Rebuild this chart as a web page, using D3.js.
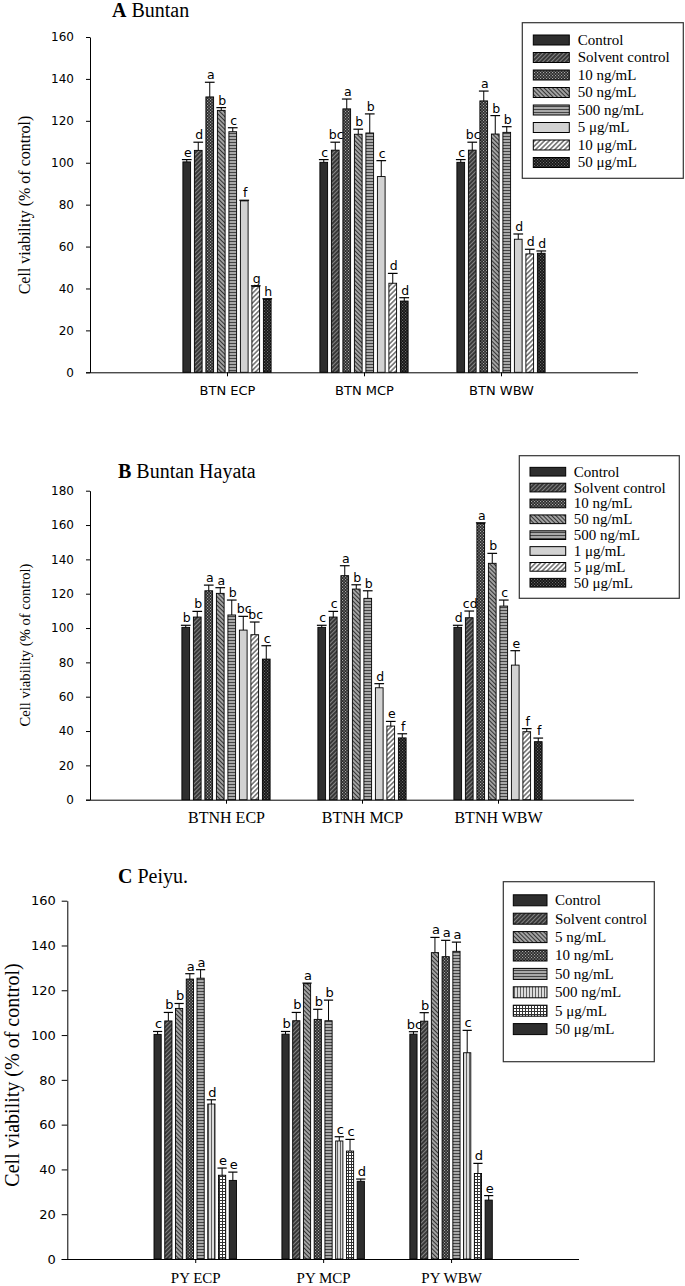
<!DOCTYPE html>
<html><head><meta charset="utf-8">
<script src="https://cdn.jsdelivr.net/npm/d3@7"></script>
<style>body{margin:0;background:#fff}svg{display:block}</style>
</head><body>
<script>
// ---------- DATA ----------
const groupsA = ["BTN ECP", "BTN MCP", "BTN WBW"];
const seriesA = ["Control", "Solvent control", "10 ng/mL", "50 ng/mL", "500 ng/mL", "5 μg/mL", "10 μg/mL", "50 μg/mL"];
const meansA = [
  [100.4, 105.9, 131.4, 125.0, 114.8, 81.8, 41.0, 34.8],
  [100.2, 106.0, 125.7, 113.6, 114.2, 93.4, 42.5, 34.0],
  [100.2, 106.0, 129.5, 113.7, 114.5, 63.5, 56.5, 56.8]
];
const errsA = [
  [1.1, 3.9, 7.0, 1.3, 1.9, 0.3, 0.3, 0.3],
  [1.3, 3.8, 4.7, 2.4, 9.1, 7.6, 4.7, 1.6],
  [1.3, 3.8, 4.7, 8.8, 2.7, 2.5, 2.2, 1.1]
];
const lettersA = [
  ["e", "d", "a", "b", "c", "f", "g", "h"],
  ["c", "bc", "a", "b", "b", "c", "d", "d"],
  ["c", "bc", "a", "b", "b", "d", "d", "d"]
];
const ticksA = [0, 20, 40, 60, 80, 100, 120, 140, 160];

const groupsB = ["BTNH ECP", "BTNH MCP", "BTNH WBW"];
const seriesB = ["Control", "Solvent control", "10 ng/mL", "50 ng/mL", "500 ng/mL", "1 μg/mL", "5 μg/mL", "50 μg/mL"];
const meansB = [
  [100.4, 106.4, 121.7, 120.2, 107.6, 98.8, 96.1, 81.9],
  [100.4, 106.4, 130.5, 122.7, 117.3, 65.2, 42.9, 36.0],
  [100.4, 106.0, 161.0, 137.7, 112.8, 78.4, 39.6, 33.8]
];
const errsB = [
  [1.2, 3.3, 3.3, 3.3, 8.7, 8.0, 7.4, 7.8],
  [1.2, 3.3, 5.8, 2.5, 4.4, 2.4, 2.7, 2.4],
  [1.2, 3.9, 0.3, 5.8, 3.5, 8.4, 1.8, 2.1]
];
const lettersB = [
  ["b", "b", "a", "a", "b", "bc", "bc", "c"],
  ["c", "c", "a", "b", "b", "d", "e", "f"],
  ["d", "cd", "a", "b", "c", "e", "f", "f"]
];
const ticksB = [0, 20, 40, 60, 80, 100, 120, 140, 160, 180];

const groupsC = ["PY ECP", "PY MCP", "PY WBW"];
const seriesC = ["Control", "Solvent control", "5 ng/mL", "10 ng/mL", "50 ng/mL", "500 ng/mL", "5 μg/mL", "50 μg/mL"];
const meansC = [
  [100.3, 106.3, 111.9, 125.0, 125.4, 69.2, 37.4, 35.1],
  [100.4, 106.4, 122.9, 107.0, 106.4, 52.7, 48.2, 34.7],
  [100.4, 106.2, 136.8, 135.0, 137.4, 92.1, 38.2, 26.3]
];
const errsC = [
  [1.3, 3.8, 2.2, 2.4, 3.8, 1.9, 3.2, 3.7],
  [1.2, 3.7, 0.3, 4.5, 9.2, 1.9, 5.2, 1.0],
  [1.1, 3.8, 6.8, 7.3, 4.1, 10.0, 4.5, 2.0]
];
const lettersC = [
  ["c", "b", "b", "a", "a", "d", "e", "e"],
  ["b", "b", "a", "b", "b", "c", "c", "d"],
  ["bc", "b", "a", "a", "a", "c", "d", "e"]
];
const ticksC = [0, 20, 40, 60, 80, 100, 120, 140, 160];

// ---------- STYLES (fill patterns per series) ----------
const patsAB = ["solid", "solv", "dots", "back", "hstr", "light", "wdiag", "bdots"];
const patsC = ["solid", "solv", "back", "dots", "hstr", "vstr", "grid", "solid"];

const svg = d3.select("body").append("svg").attr("width", 685).attr("height", 1286);
const defs = svg.append("defs");

function hatch(id, bg, col, sw, sp, ang) {
  const p = defs.append("pattern").attr("id", id).attr("patternUnits", "userSpaceOnUse")
    .attr("width", sp).attr("height", sp).attr("patternTransform", `rotate(${ang})`);
  p.append("rect").attr("width", sp).attr("height", sp).attr("fill", bg);
  p.append("line").attr("x1", sp / 2).attr("x2", sp / 2).attr("y1", 0).attr("y2", sp)
    .attr("stroke", col).attr("stroke-width", sw);
}
function dots(id, bg, col, sp, r) {
  const p = defs.append("pattern").attr("id", id).attr("patternUnits", "userSpaceOnUse")
    .attr("width", sp).attr("height", sp);
  p.append("rect").attr("width", sp).attr("height", sp).attr("fill", bg);
  p.append("rect").attr("x", 0).attr("y", 0).attr("width", r).attr("height", r).attr("fill", col);
  p.append("rect").attr("x", sp / 2).attr("y", sp / 2).attr("width", r).attr("height", r).attr("fill", col);
}
hatch("solv", "#383838", "#8c8c8c", 0.9, 3, 45);
dots("dots", "#2c2c2c", "#a8a8a8", 3, 1.1);
hatch("back", "#a2a2a2", "#333", 1, 3, -45);
hatch("hstr", "#a8a8a8", "#444", 1, 3, 90);
hatch("wdiag", "#ffffff", "#333", 1.1, 3.4, 45);
dots("bdots", "#151515", "#6a6a6a", 3, 1.1);
hatch("vstr", "#dcdcdc", "#555", 0.9, 3, 0);
(function () {
  const p = defs.append("pattern").attr("id", "grid").attr("patternUnits", "userSpaceOnUse")
    .attr("width", 3).attr("height", 3);
  p.append("rect").attr("width", 3).attr("height", 3).attr("fill", "#fff");
  p.append("path").attr("d", "M0 0.5H3M0.5 0V3").attr("stroke", "#333").attr("stroke-width", 1);
})();
function fillOf(k) {
  if (k === "solid") return "#2e2e2e";
  if (k === "light") return "#d2d2d2";
  return `url(#${k})`;
}

const SANS = "'DejaVu Sans', sans-serif";
const SERIF = "'Liberation Serif', 'Times New Roman', serif";

function drawPanel(c) {
  const g = svg.append("g");
  const y = d3.scaleLinear().domain([0, c.ymax]).range([c.y0, c.y1]);
  const x = d3.scaleLinear().domain([0, 4]).range([c.x0, c.x1]);
  const inner = d3.scaleBand().domain(d3.range(8)).range([-c.gw / 2, c.gw / 2])
    .paddingInner(0.33).paddingOuter(0.165);

  // title
  const t = g.append("text").attr("x", c.tx).attr("y", c.ty).attr("font-family", SERIF)
    .attr("font-size", c.tfs);
  t.append("tspan").attr("font-weight", "bold").text(c.title[0]);
  t.append("tspan").text(" " + c.title[1]);

  // y axis
  const ya = g.append("g").attr("transform", `translate(${c.x0},0)`)
    .call(d3.axisLeft(y).tickValues(c.ticks).tickSize(c.tl).tickSizeOuter(0).tickPadding(c.tp));
  ya.select(".domain").attr("stroke", "#000");
  ya.selectAll("line").attr("stroke", "#000");
  ya.selectAll("text").attr("font-family", SANS).attr("font-size", c.tkfs).attr("fill", "#000");

  // x axis
  const xa = g.append("g").attr("transform", `translate(0,${c.y0})`)
    .call(d3.axisBottom(x).tickValues([1, 2, 3]).tickFormat(i => c.groups[i - 1])
      .tickSize(4).tickSizeOuter(0).tickPadding(c.xpad));
  xa.select(".domain").attr("d", `M${c.x0 - c.tl},0.5H${c.x1}`).attr("stroke", "#000");
  xa.selectAll("line").attr("stroke", "#000");
  xa.selectAll("text").attr("font-family", c.xfont).attr("font-size", c.xfs).attr("fill", "#000");

  // y label
  g.append("text").attr("transform", `translate(${c.ylx},${c.yly}) rotate(-90)`)
    .attr("text-anchor", "middle").attr("font-family", SERIF).attr("font-size", c.ylfs)
    .text("Cell viability (% of control)");

  // bars
  c.means.forEach((row, gi) => {
    const cx = x(gi + 1);
    row.forEach((v, si) => {
      const bx = cx + inner(si);
      const bw = inner.bandwidth();
      g.append("rect").attr("x", bx).attr("y", y(v)).attr("width", bw).attr("height", y(0) - y(v))
        .attr("fill", fillOf(c.pats[si])).attr("stroke", "#000").attr("stroke-width", 0.9);
      const e = c.errs[gi][si];
      const ey = y(v + e);
      const mx = bx + bw / 2;
      g.append("line").attr("x1", mx).attr("x2", mx).attr("y1", y(v)).attr("y2", ey)
        .attr("stroke", "#000").attr("stroke-width", 1);
      g.append("line").attr("x1", mx - bw / 2 - 1).attr("x2", mx + bw / 2 + 1).attr("y1", ey).attr("y2", ey)
        .attr("stroke", "#000").attr("stroke-width", 1.2);
      g.append("text").attr("x", mx + 1).attr("y", ey - 3).attr("text-anchor", "middle")
        .attr("font-family", SANS).attr("font-size", c.lfs).attr("fill", "#000")
        .text(c.letters[gi][si]);
    });
  });

  // legend
  const L = c.leg;
  g.append("rect").attr("x", L.x).attr("y", L.y).attr("width", L.w).attr("height", L.h)
    .attr("fill", "#fff").attr("stroke", "#333").attr("stroke-width", 1.2);
  c.series.forEach((s, i) => {
    const ry = L.r0 + i * L.dy;
    g.append("rect").attr("x", L.sx).attr("y", ry - L.sh / 2).attr("width", L.sw).attr("height", L.sh)
      .attr("fill", fillOf(c.pats[i])).attr("stroke", "#000").attr("stroke-width", 1);
    g.append("text").attr("x", L.tx).attr("y", ry + L.fs * 0.33).attr("font-family", SERIF)
      .attr("font-size", L.fs).attr("fill", "#000").text(s);
  });
}

drawPanel({
  title: ["A", "Buntan"], tx: 112, ty: 17, tfs: 20,
  groups: groupsA, series: seriesA, means: meansA, errs: errsA, letters: lettersA, ticks: ticksA, pats: patsAB,
  ymax: 160, y0: 372.3, y1: 37, x0: 90, x1: 638, gw: 92,
  tl: 4, tp: 12, tkfs: 12, xpad: 9, xfont: SANS, xfs: 13, lfs: 12.5,
  ylx: 30, yly: 205, ylfs: 16,
  leg: { x: 522.3, y: 22.7, w: 161, h: 155.6, r0: 40, dy: 17.5, sx: 533.3, sw: 36, sh: 10, tx: 577.7, fs: 15 }
});

drawPanel({
  title: ["B", "Buntan Hayata"], tx: 118, ty: 478, tfs: 20,
  groups: groupsB, series: seriesB, means: meansB, errs: errsB, letters: lettersB, ticks: ticksB, pats: patsAB,
  ymax: 180, y0: 799.7, y1: 490.7, x0: 90, x1: 634, gw: 92,
  tl: 4, tp: 12, tkfs: 12, xpad: 8, xfont: SERIF, xfs: 16, lfs: 12.5,
  ylx: 30, yly: 645, ylfs: 14.6,
  leg: { x: 519.3, y: 455.7, w: 160, h: 142.6, r0: 471.7, dy: 15.86, sx: 530, sw: 35.7, sh: 8.7, tx: 573.7, fs: 15 }
});

drawPanel({
  title: ["C", "Peiyu."], tx: 118, ty: 883, tfs: 20,
  groups: groupsC, series: seriesC, means: meansC, errs: errsC, letters: lettersC, ticks: ticksC, pats: patsC,
  ymax: 160, y0: 1259, y1: 900.7, x0: 67.3, x1: 579, gw: 86,
  tl: 5.6, tp: 6, tkfs: 13, xpad: 9, xfont: SERIF, xfs: 15, lfs: 13,
  ylx: 19, yly: 1075, ylfs: 20,
  leg: { x: 503.3, y: 881.7, w: 151, h: 180, r0: 900.3, dy: 18.4, sx: 513.3, sw: 33.7, sh: 11, tx: 555, fs: 15 }
});
</script>
</body></html>
